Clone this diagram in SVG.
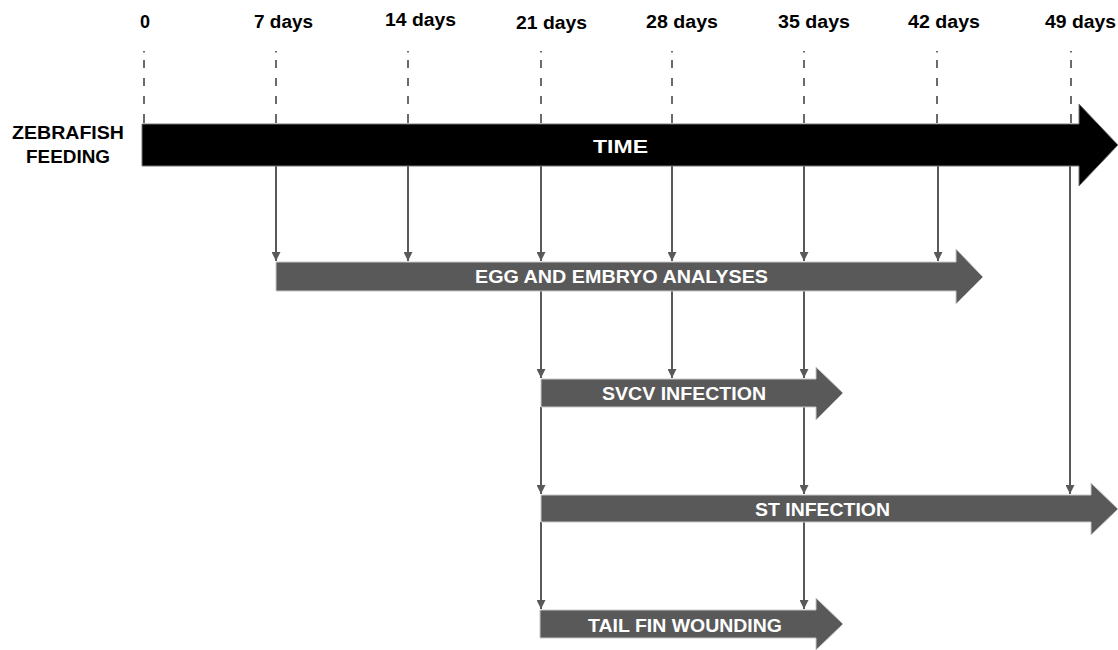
<svg xmlns="http://www.w3.org/2000/svg" width="1118" height="650" viewBox="0 0 1118 650">
<defs>
<style>
.lbl{font-family:"Liberation Sans",Arial,sans-serif;font-weight:bold;font-size:18px;fill:#000;text-anchor:middle}
.bar{fill:#595959;stroke:#c8c8c8;stroke-width:1}
.bt{font-family:"Liberation Sans",Arial,sans-serif;font-weight:bold;font-size:18px;fill:#fff;text-anchor:middle}
.dash{stroke:#6b6b6b;stroke-width:2;fill:none;stroke-dasharray:1.5 7.5 8 10 8 10 8 10 9}
.con{stroke:#595959;stroke-width:2;fill:none}
</style>
<marker id="ah" viewBox="0 0 10 10" refX="10" refY="5" markerWidth="9" markerHeight="9" markerUnits="userSpaceOnUse" orient="auto">
<path d="M0,0 L10,5 L0,10 Z" fill="#595959"/>
</marker>
</defs>
<rect width="1118" height="650" fill="#fff"/>

<g id="timeline-labels">
<text class="lbl" x="145" y="28">0</text>
<text class="lbl" x="283.5" y="28" textLength="59" lengthAdjust="spacingAndGlyphs">7 days</text>
<text class="lbl" x="420.5" y="26" textLength="71" lengthAdjust="spacingAndGlyphs">14 days</text>
<text class="lbl" x="551.5" y="29" textLength="71" lengthAdjust="spacingAndGlyphs">21 days</text>
<text class="lbl" x="682" y="28" textLength="72" lengthAdjust="spacingAndGlyphs">28 days</text>
<text class="lbl" x="814" y="28" textLength="72" lengthAdjust="spacingAndGlyphs">35 days</text>
<text class="lbl" x="944" y="28" textLength="72" lengthAdjust="spacingAndGlyphs">42 days</text>
<text class="lbl" x="1080.5" y="28" textLength="71" lengthAdjust="spacingAndGlyphs">49 days</text>
</g>

<g id="ticks">
<line class="dash" x1="144" y1="51" x2="144" y2="123"/>
<line class="dash" x1="276" y1="51" x2="276" y2="123"/>
<line class="dash" x1="408" y1="51" x2="408" y2="123"/>
<line class="dash" x1="541" y1="51" x2="541" y2="123"/>
<line class="dash" x1="672" y1="51" x2="672" y2="123"/>
<line class="dash" x1="804" y1="51" x2="804" y2="123"/>
<line class="dash" x1="937" y1="51" x2="937" y2="123"/>
<line class="dash" x1="1071" y1="51" x2="1071" y2="123"/>
</g>

<g id="zebrafish-feeding">
<text class="lbl" x="68" y="139" font-size="19" textLength="112" lengthAdjust="spacingAndGlyphs">ZEBRAFISH</text>
<text class="lbl" x="68" y="163" font-size="19" textLength="84" lengthAdjust="spacingAndGlyphs">FEEDING</text>
</g>

<g id="connectors">
<line class="con" x1="276" y1="166" x2="276" y2="261" marker-end="url(#ah)"/>
<line class="con" x1="408" y1="166" x2="408" y2="261" marker-end="url(#ah)"/>
<line class="con" x1="541" y1="166" x2="541" y2="261" marker-end="url(#ah)"/>
<line class="con" x1="672" y1="166" x2="672" y2="261" marker-end="url(#ah)"/>
<line class="con" x1="804" y1="166" x2="804" y2="261" marker-end="url(#ah)"/>
<line class="con" x1="938" y1="166" x2="938" y2="261" marker-end="url(#ah)"/>
<line class="con" x1="1070" y1="166" x2="1070" y2="494" marker-end="url(#ah)"/>
<line class="con" x1="541" y1="291" x2="541" y2="378" marker-end="url(#ah)"/>
<line class="con" x1="672" y1="291" x2="672" y2="378" marker-end="url(#ah)"/>
<line class="con" x1="804" y1="291" x2="804" y2="378" marker-end="url(#ah)"/>
<line class="con" x1="541" y1="407" x2="541" y2="494" marker-end="url(#ah)"/>
<line class="con" x1="804" y1="407" x2="804" y2="494" marker-end="url(#ah)"/>
<line class="con" x1="541" y1="522" x2="541" y2="609" marker-end="url(#ah)"/>
<line class="con" x1="804" y1="522" x2="804" y2="609" marker-end="url(#ah)"/>
</g>

<g id="time">
<polygon points="142,124 1079,124 1079,104 1118,145 1079,186 1079,166 142,166" fill="#000" stroke="#777" stroke-width="1"/>
<text class="bt" x="620.5" y="153" font-size="23" textLength="55" lengthAdjust="spacingAndGlyphs">TIME</text>
</g>

<g id="egg-embryo">
<polygon class="bar" points="276,262 956,262 956,249 983,277 956,304 956,291 276,291"/>
<text class="bt" x="621.5" y="283" textLength="293" lengthAdjust="spacingAndGlyphs">EGG AND EMBRYO ANALYSES</text>
</g>

<g id="svcv">
<polygon class="bar" points="541,379 816,379 816,367 843,393 816,420 816,407 541,407"/>
<text class="bt" x="684" y="400" textLength="164" lengthAdjust="spacingAndGlyphs">SVCV INFECTION</text>
</g>

<g id="st">
<polygon class="bar" points="541,495 1091,495 1091,483 1118,509 1091,535 1091,522 541,522"/>
<text class="bt" x="822.5" y="516" textLength="135" lengthAdjust="spacingAndGlyphs">ST INFECTION</text>
</g>

<g id="tail-fin">
<polygon class="bar" points="540,610 816,610 816,598 843,624 816,650 816,638 540,638"/>
<text class="bt" x="685" y="632" textLength="194" lengthAdjust="spacingAndGlyphs">TAIL FIN WOUNDING</text>
</g>
</svg>
